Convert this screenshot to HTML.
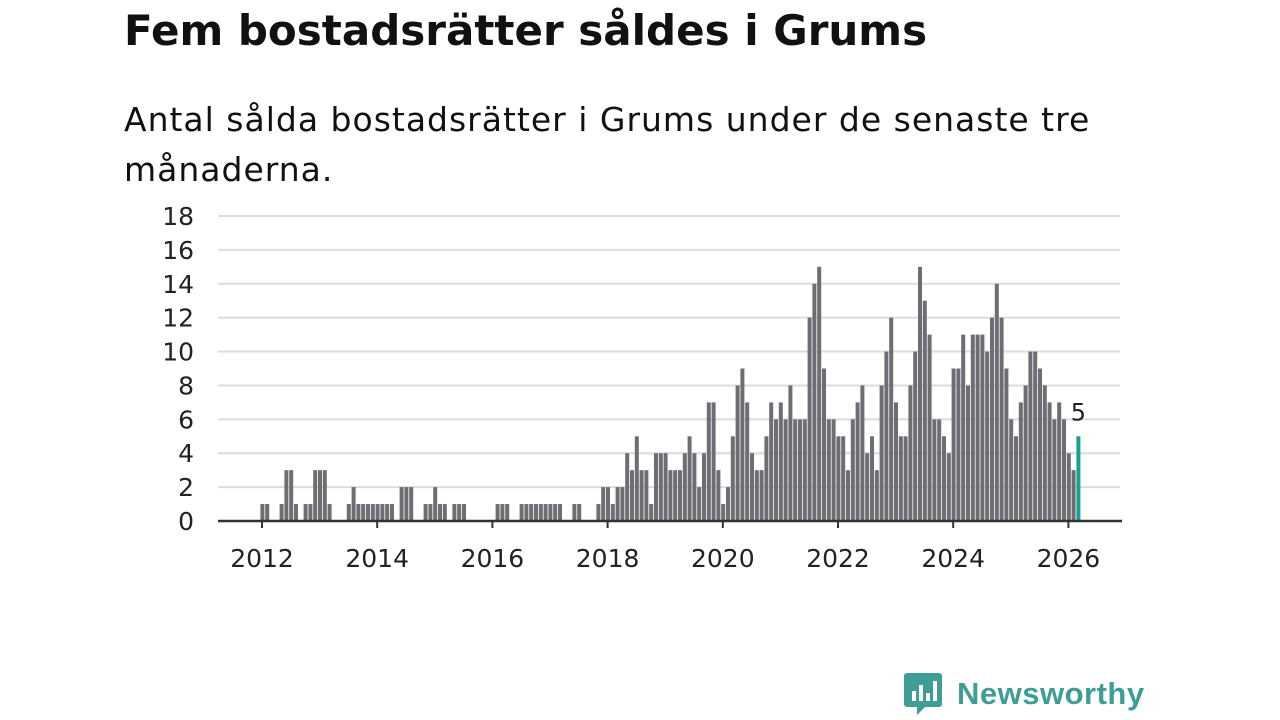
<!DOCTYPE html>
<html><head><meta charset="utf-8"><style>
body{margin:0;width:1280px;height:720px;background:#fff;font-family:"DejaVu Sans","Liberation Sans",sans-serif;overflow:hidden;position:relative}
.t{position:absolute;left:124px;top:6px;font-size:42px;font-weight:bold;color:#111;white-space:nowrap}
.s{position:absolute;left:124px;top:95px;font-size:33px;line-height:50px;color:#111;white-space:nowrap;letter-spacing:1px}
</style></head><body>
<div class="t">Fem bostadsrätter såldes i Grums</div>
<div class="s">Antal sålda bostadsrätter i Grums under de senaste tre<br>månaderna.</div>
<svg id="c" width="1280" height="720" style="position:absolute;left:0;top:0"></svg>
<div style="position:absolute;left:903px;top:671px;display:flex;align-items:center">
<svg width="40" height="46"><path d="M4 2h32a3 3 0 0 1 3 3v28a3 3 0 0 1-3 3H22l-8 8v-8H4a3 3 0 0 1-3-3V5a3 3 0 0 1 3-3z" fill="#3e9e96"/><rect x="9" y="20" width="4" height="10" fill="#fff"/><rect x="16" y="14" width="4" height="16" fill="#fff"/><rect x="23" y="22" width="4" height="8" fill="#fff"/><rect x="30" y="10" width="4" height="20" fill="#fff"/></svg>
<span style="font-size:31px;color:#3e9e96;margin-left:14px;font-weight:bold;font-family:'Liberation Sans',sans-serif;letter-spacing:0.5px">Newsworthy</span></div>
<script>
const values=[1,1,0,0,1,3,3,1,0,1,1,3,
3,3,1,0,0,0,1,2,1,1,1,1,
1,1,1,1,0,2,2,2,0,0,1,1,
2,1,1,0,1,1,1,0,0,0,0,0,
0,1,1,1,0,0,1,1,1,1,1,1,
1,1,1,0,0,1,1,0,0,0,1,2,
2,1,2,2,4,3,5,3,3,1,4,4,
4,3,3,3,4,5,4,2,4,7,7,3,
1,2,5,8,9,7,4,3,3,5,7,6,
7,6,8,6,6,6,12,14,15,9,6,6,
5,5,3,6,7,8,4,5,3,8,10,12,
7,5,5,8,10,15,13,11,6,6,5,4,
9,9,11,8,11,11,11,10,12,14,12,9,
6,5,7,8,10,10,9,8,7,6,7,6,
4,3,5];
const startYear=2012;
const yTicks=[0,2,4,6,8,10,12,14,16,18];
const xTicks=[2012,2014,2016,2018,2020,2022,2024,2026];
const svg=document.getElementById('c');const NS='http://www.w3.org/2000/svg';
const FF='DejaVu Sans';
const y=v=>521-v*(305/18);
const x=m=>262.4+m*4.8;
function el(t,a){const e=document.createElementNS(NS,t);for(const k in a)e.setAttribute(k,a[k]);svg.appendChild(e);return e;}
yTicks.forEach(v=>{
 const g=el('line',{x1:218,x2:1120,y1:y(v),y2:y(v),stroke:'#dcdcdc','stroke-width':2});
 
 
 const t=el('text',{x:194,y:y(v)+9,'text-anchor':'end','font-size':25,fill:'#222','font-family':FF});
 t.textContent=v;
 
 
});
values.forEach((v,m)=>{
 if(!v)return;
 const last=m===values.length-1;
 const r=el('rect',{x:x(m)-2,y:y(v),width:4,height:521-y(v),fill:last?'#1a9e96':'#6e6d73'});
 
 
 if(last){const t=el('text',{x:x(m),y:y(v)-16,'text-anchor':'middle','font-size':24,fill:'#222','font-family':FF});t.textContent=v;
 
 }
});
const ax=el('line',{x1:218,x2:1122,y1:521,y2:521,stroke:'#333','stroke-width':2.5});


xTicks.forEach(yr=>{
 const xx=x((yr-startYear)*12)-0.4;
 const l=el('line',{x1:xx,x2:xx,y1:521,y2:528,stroke:'#333','stroke-width':2});
 
 
 const t=el('text',{x:xx,y:567,'text-anchor':'middle','font-size':25,fill:'#222','font-family':FF});
 t.textContent=yr;
 
 
});
</script>
</body></html>
